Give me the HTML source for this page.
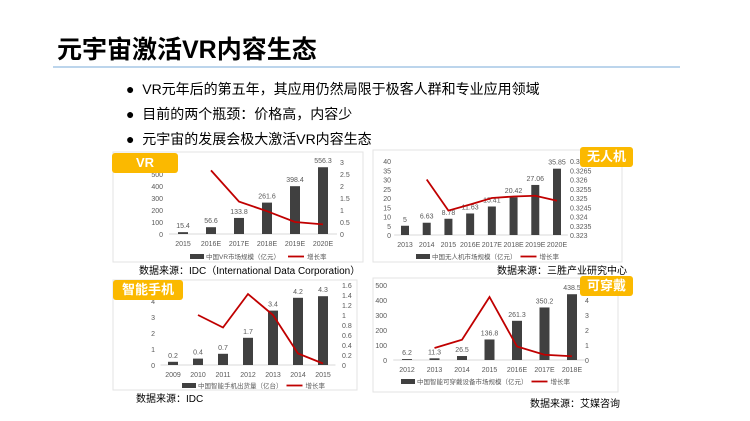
<!DOCTYPE html>
<html><head><meta charset="utf-8">
<style>
body{margin:0;width:750px;height:421px;background:#fff;overflow:hidden;font-family:"Liberation Sans","Noto Sans CJK SC",sans-serif;position:relative}
.t{position:absolute;white-space:nowrap}
.badge{position:absolute;background:#fbb900;color:#fff;font-weight:bold;font-size:13px;border-radius:3px;text-align:center;line-height:20px}
</style></head><body>
<div class="t" style="left:57px;top:30px;font-size:25px;font-weight:bold;color:#000">元宇宙激活VR内容生态</div>
<div style="position:absolute;left:53px;top:66px;width:627px;height:2px;background:#bcd5ec"></div>
<div class="t" style="left:126px;top:79px;font-size:14px">●&nbsp; VR元年后的第五年，其应用仍然局限于极客人群和专业应用领域</div>
<div class="t" style="left:126px;top:104px;font-size:14px">●&nbsp; 目前的两个瓶颈：价格高，内容少</div>
<div class="t" style="left:126px;top:129px;font-size:14px">●&nbsp; 元宇宙的发展会极大激活VR内容生态</div>

<svg id="chart" width="750" height="421" style="position:absolute;left:0;top:0"></svg>

<div class="badge" style="left:112px;top:153px;width:66px">VR</div>
<div class="badge" style="left:580px;top:147px;width:53px">无人机</div>
<div class="badge" style="left:113px;top:280px;width:70px">智能手机</div>
<div class="badge" style="left:580px;top:276px;width:53px">可穿戴</div>
<div class="t" style="left:139px;top:262px;font-size:10px">数据来源：IDC（International Data Corporation）</div>
<div class="t" style="left:497px;top:262px;font-size:10px">数据来源：三胜产业研究中心</div>
<div class="t" style="left:136px;top:390px;font-size:10px">数据来源：IDC</div>
<div class="t" style="left:530px;top:395px;font-size:10px">数据来源：艾媒咨询</div>

<script>
const vrCats=["2015","2016E","2017E","2018E","2019E","2020E"];
const vrVals=[15.4,56.6,133.8,261.6,398.4,556.3];
const vrGrowth=[null,2.65,1.35,0.95,0.5,0.4];
const vrLeftTicks=[0,100,200,300,400,500,600];
const vrRightTicks=[0,0.5,1,1.5,2,2.5,3];

const drCats=["2013","2014","2015","2016E","2017E","2018E","2019E","2020E"];
const drVals=[5,6.63,8.78,11.63,15.41,20.42,27.06,35.85];
const drGrowth=[null,0.326,0.32432,0.32465,0.325,0.32508,0.32512,0.32485];
const drLeftTicks=[0,5,10,15,20,25,30,35,40];
const drRightTicks=[0.323,0.3235,0.324,0.3245,0.325,0.3255,0.326,0.3265,0.327];

const phCats=["2009","2010","2011","2012","2013","2014","2015"];
const phVals=[0.2,0.4,0.7,1.7,3.4,4.2,4.3];
const phGrowth=[null,1.0,0.75,1.42,1.0,0.23,0.03];
const phLeftTicks=[0,1,2,3,4,5];
const phRightTicks=[0,0.2,0.4,0.6,0.8,1,1.2,1.4,1.6];

const weCats=["2012","2013","2014","2015","2016E","2017E","2018E"];
const weVals=[6.2,11.3,26.5,136.8,261.3,350.2,438.5];
const weGrowth=[null,0.8,1.35,4.2,0.9,0.35,0.25];
const weLeftTicks=[0,100,200,300,400,500];
const weRightTicks=[0,1,2,3,4,5];

const NS="http://www.w3.org/2000/svg";
const svg=document.getElementById('chart');
function mk(tag,attrs,parent){const e=document.createElementNS(NS,tag);for(const k in attrs)e.setAttribute(k,attrs[k]);(parent||svg).appendChild(e);return e;}
function txt(s,x,y,anchor,size,g,fill){const e=mk('text',{x:x,y:y,'text-anchor':anchor,'font-size':size,fill:fill||'#595959'},g);e.textContent=s;return e;}

function draw(name,box,c,cats,vals,growth,lt,rt,legendText){
  const g=mk('g',{});
  
  
  const fr=mk('rect',{x:box[0],y:box[1],width:box[2],height:box[3],fill:'#fff',stroke:'#e3e3e3'},g);
  
  
  const n=cats.length;
  const xs=i=>c.x0+(c.x1-c.x0)*i/(n-1);
  const ly=v=>c.base-(v-lt[0])/(lt[lt.length-1]-lt[0])*(c.base-c.top);
  const ry=v=>c.base-(v-rt[0])/(rt[rt.length-1]-rt[0])*(c.base-c.top);
  mk('line',{x1:c.x0-c.sp/2,x2:c.x1+c.sp/2,y1:c.base,y2:c.base,stroke:'#d9d9d9'},g);
  lt.forEach(v=>{const t=txt(String(v),c.lx,ly(v)+3,'end',7,g);});
  rt.forEach(v=>{const t=txt(String(v),c.rx,ry(v)+3,'start',7,g);});
  cats.forEach((s,i)=>{
    const t=txt(s,xs(i),c.base+12,'middle',7,g);
    
    
    const y=ly(vals[i]);
    const b=mk('rect',{x:xs(i)-c.bw/2,y:y,width:c.bw,height:c.base-y,fill:'#404040'},g);
    
    
    const v=txt(String(vals[i]),xs(i),y-4,'middle',7,g);
    
    
  });
  let d='';
  growth.forEach((v,i)=>{if(v==null)return;d+=(d?'L':'M')+xs(i)+' '+ry(v);});
  const p=mk('path',{d:d,fill:'none',stroke:'#c00000','stroke-width':1.8},g);
  
  
  const lg=mk('g',{},g);
  
  
  mk('rect',{x:c.legx,y:c.legy-4,width:14,height:5,fill:'#404040'},lg);
  const lt1=txt(legendText,c.legx+16,c.legy+1,'start',6.5,lg);
  const w=legendText.length*6.5+4;
  mk('line',{x1:c.legx+16+w,x2:c.legx+32+w,y1:c.legy-1.5,y2:c.legy-1.5,stroke:'#c00000','stroke-width':1.8},lg);
  txt('增长率',c.legx+35+w,c.legy+1,'start',6.5,lg);
}
draw('vr',[113,152,250,110],{x0:183,x1:323,sp:28,base:234,top:162,bw:10,lx:163,rx:340,legx:190,legy:258},vrCats,vrVals,vrGrowth,vrLeftTicks,vrRightTicks,'中国VR市场规模（亿元）');
draw('drone',[373,150,249,112],{x0:405,x1:557,sp:21.7,base:235,top:161,bw:8,lx:391,rx:570,legx:416,legy:258},drCats,drVals,drGrowth,drLeftTicks,drRightTicks,'中国无人机市场规模（亿元）');
draw('phone',[113,280,244,110],{x0:173,x1:323,sp:25,base:365,top:285,bw:10,lx:155,rx:342,legx:182,legy:387},phCats,phVals,phGrowth,phLeftTicks,phRightTicks,'中国智能手机出货量（亿台）');
draw('wearable',[373,278,245,114],{x0:407,x1:572,sp:27.5,base:360,top:285,bw:10,lx:387,rx:585,legx:401,legy:383},weCats,weVals,weGrowth,weLeftTicks,weRightTicks,'中国智能可穿戴设备市场规模（亿元）');
</script>
</body></html>
